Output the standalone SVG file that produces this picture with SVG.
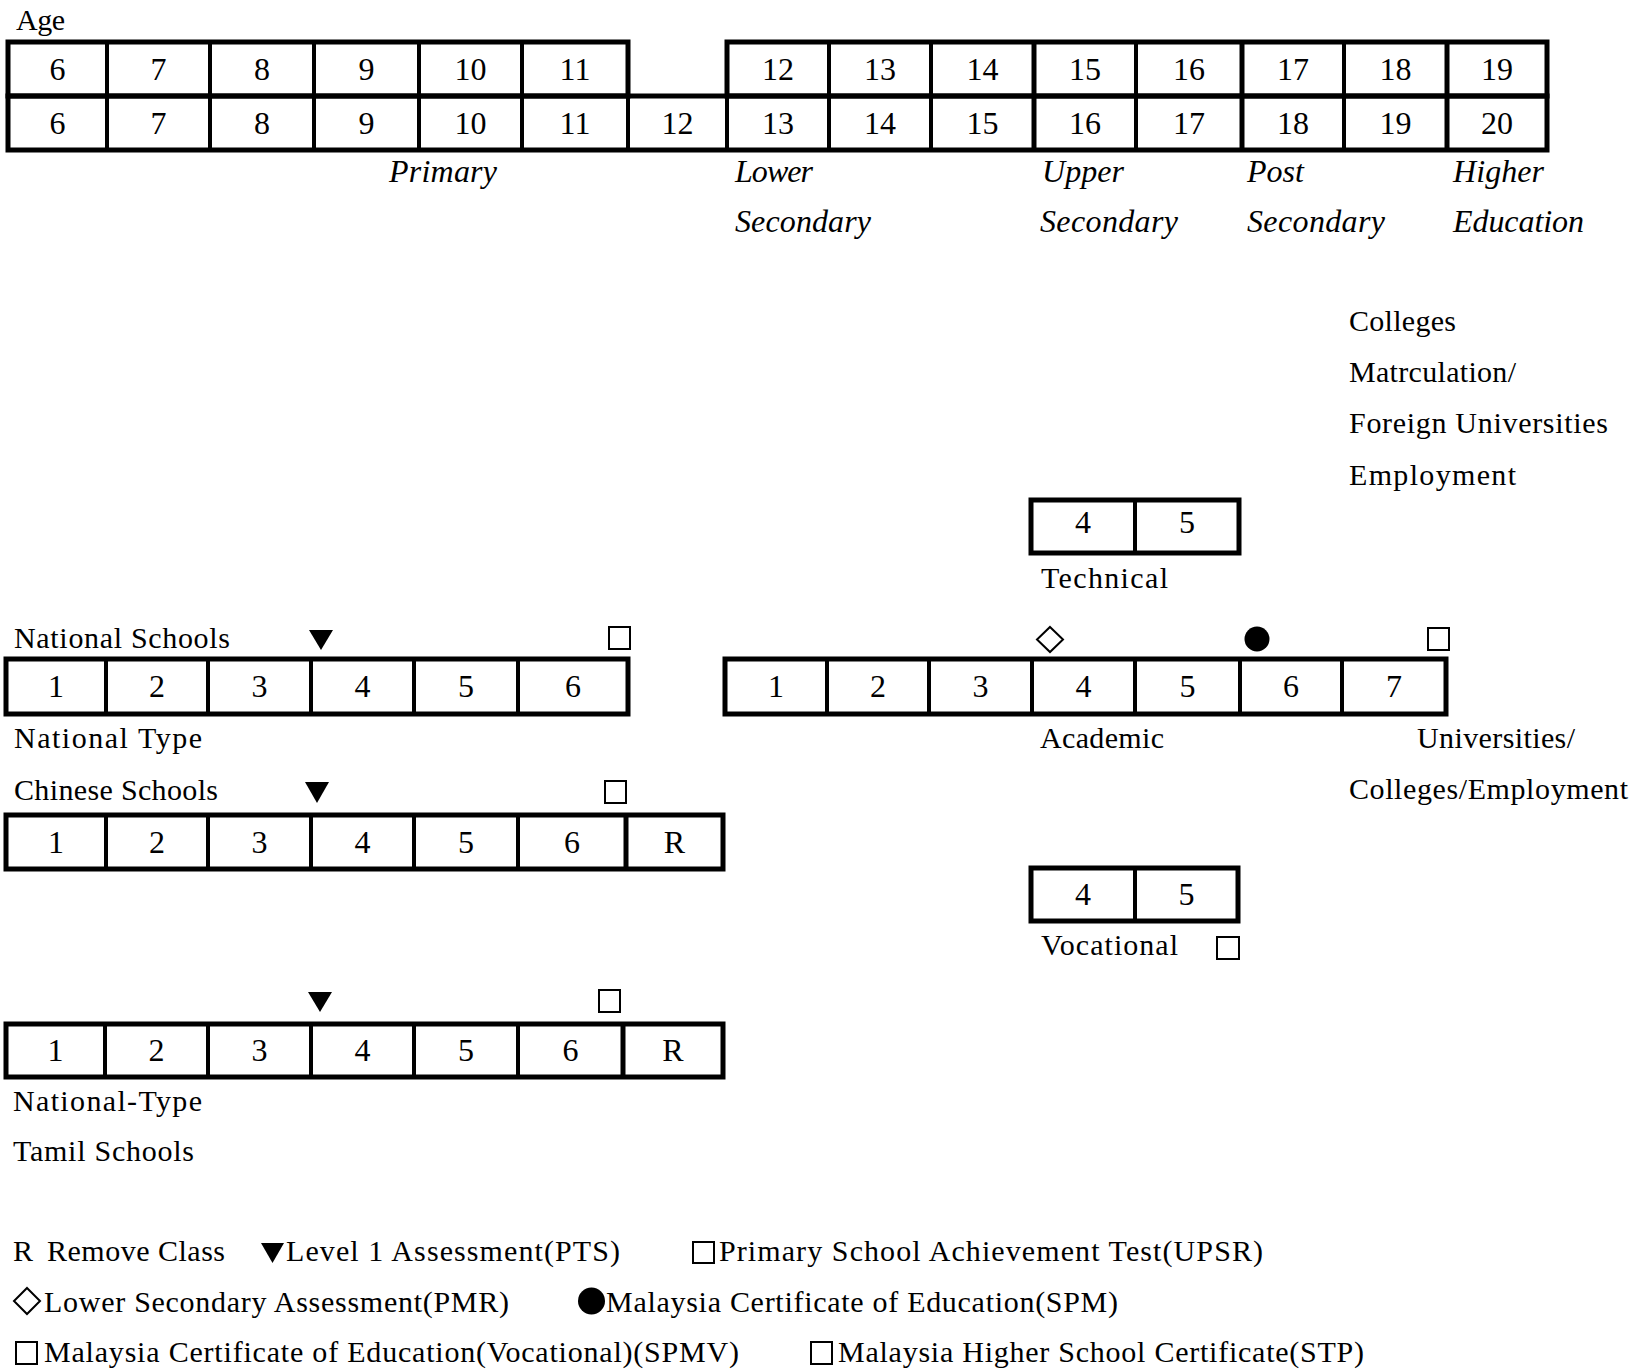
<svg xmlns="http://www.w3.org/2000/svg" width="1639" height="1369" viewBox="0 0 1639 1369">
<style>
text{font-family:"Liberation Serif","Times New Roman",serif;fill:#000}
.d{font-size:32px;text-anchor:middle}
.l{font-size:30px}
.i{font-size:32px;font-style:italic}
.box{fill:none;stroke:#000;stroke-width:5}
.div{stroke:#000;stroke-width:4}
.sq{fill:none;stroke:#000;stroke-width:2}
</style>
<rect width="1639" height="1369" fill="#fff"/>
<g id="age-table">
<text class="l" x="16" y="30" textLength="49">Age</text>
<rect class="box" x="8" y="42" width="620" height="54"/>
<rect class="box" x="727" y="42" width="820" height="54"/>
<rect class="box" x="8" y="96" width="1539" height="54"/>
<g class="div">
<line x1="107" y1="42" x2="107" y2="150"/><line x1="210" y1="42" x2="210" y2="150"/><line x1="314" y1="42" x2="314" y2="150"/><line x1="419" y1="42" x2="419" y2="150"/><line x1="522" y1="42" x2="522" y2="150"/><line x1="628" y1="96" x2="628" y2="150"/><line x1="727" y1="96" x2="727" y2="150"/><line x1="829" y1="42" x2="829" y2="150"/><line x1="931" y1="42" x2="931" y2="150"/><line x1="1034" y1="42" x2="1034" y2="150" stroke-width="5"/><line x1="1136" y1="42" x2="1136" y2="150"/><line x1="1242" y1="42" x2="1242" y2="150" stroke-width="5"/><line x1="1344" y1="42" x2="1344" y2="150"/><line x1="1447" y1="42" x2="1447" y2="150" stroke-width="5"/>
</g>
<g class="d">
<text x="57.5" y="80">6</text><text x="158.5" y="80">7</text><text x="262" y="80">8</text><text x="366.5" y="80">9</text><text x="470.5" y="80">10</text><text x="575" y="80">11</text>
<text x="778" y="80">12</text><text x="880" y="80">13</text><text x="982.5" y="80">14</text><text x="1085" y="80">15</text><text x="1189" y="80">16</text><text x="1293" y="80">17</text><text x="1395.5" y="80">18</text><text x="1497" y="80">19</text>
<text x="57.5" y="134">6</text><text x="158.5" y="134">7</text><text x="262" y="134">8</text><text x="366.5" y="134">9</text><text x="470.5" y="134">10</text><text x="575" y="134">11</text><text x="677.5" y="134">12</text>
<text x="778" y="134">13</text><text x="880" y="134">14</text><text x="982.5" y="134">15</text><text x="1085" y="134">16</text><text x="1189" y="134">17</text><text x="1293" y="134">18</text><text x="1395.5" y="134">19</text><text x="1497" y="134">20</text>
</g>
<g class="i">
<text x="389" y="182" textLength="108">Primary</text>
<text x="735" y="182" textLength="78">Lower</text>
<text x="735" y="232" textLength="136">Secondary</text>
<text x="1042" y="182" textLength="82">Upper</text>
<text x="1040" y="232" textLength="138">Secondary</text>
<text x="1247" y="182" textLength="57">Post</text>
<text x="1247" y="232" textLength="138">Secondary</text>
<text x="1453" y="182" textLength="91">Higher</text>
<text x="1453" y="232" textLength="131">Education</text>
</g>
</g>
<g id="higher-destinations" class="l">
<text x="1349" y="331" textLength="107">Colleges</text>
<text x="1349" y="382" textLength="167">Matrculation/</text>
<text x="1349" y="433" textLength="259">Foreign Universities</text>
<text x="1349" y="485" textLength="167">Employment</text>
</g>
<g id="technical">
<rect class="box" x="1031" y="500" width="208" height="53"/>
<line class="div" x1="1135" y1="500" x2="1135" y2="553"/>
<text class="d" x="1083" y="533">4</text><text class="d" x="1187" y="533">5</text>
<text class="l" x="1041" y="588" textLength="127">Technical</text>
</g>
<g id="national-schools">
<text class="l" x="14" y="648" textLength="216">National Schools</text>
<polygon points="309,630 333,630 321,650"/>
<rect class="sq" x="609" y="627" width="21" height="22"/>
<rect class="box" x="6" y="659" width="622" height="55"/>
<g class="div"><line x1="106" y1="659" x2="106" y2="714"/><line x1="208" y1="659" x2="208" y2="714"/><line x1="311" y1="659" x2="311" y2="714"/><line x1="414" y1="659" x2="414" y2="714"/><line x1="518" y1="659" x2="518" y2="714"/></g>
<g class="d"><text x="56" y="697">1</text><text x="157" y="697">2</text><text x="259.5" y="697">3</text><text x="362.5" y="697">4</text><text x="466" y="697">5</text><text x="573" y="697">6</text></g>
</g>
<g id="academic">
<polygon points="1050,627 1063,639.5 1050,652 1037,639.5" fill="#fff" stroke="#000" stroke-width="2"/>
<circle cx="1257" cy="639" r="12.5"/>
<rect class="sq" x="1428" y="628" width="21" height="22"/>
<rect class="box" x="725" y="659" width="721" height="55"/>
<g class="div"><line x1="827" y1="659" x2="827" y2="714"/><line x1="929" y1="659" x2="929" y2="714"/><line x1="1032" y1="659" x2="1032" y2="714"/><line x1="1135" y1="659" x2="1135" y2="714"/><line x1="1240" y1="659" x2="1240" y2="714"/><line x1="1342" y1="659" x2="1342" y2="714"/></g>
<g class="d"><text x="776" y="697">1</text><text x="878" y="697">2</text><text x="980.5" y="697">3</text><text x="1083.5" y="697">4</text><text x="1187.5" y="697">5</text><text x="1291" y="697">6</text><text x="1394" y="697">7</text></g>
<text class="l" x="1040" y="748" textLength="124">Academic</text>
<text class="l" x="1417" y="748" textLength="158">Universities/</text>
<text class="l" x="1349" y="799" textLength="279">Colleges/Employment</text>
</g>
<g id="chinese-schools">
<text class="l" x="14" y="748" textLength="188">National Type</text>
<text class="l" x="14" y="800" textLength="204">Chinese Schools</text>
<polygon points="305,782 329,782 317,803"/>
<rect class="sq" x="605" y="781" width="21" height="22"/>
<rect class="box" x="6" y="815" width="717" height="54"/>
<g class="div"><line x1="106" y1="815" x2="106" y2="869"/><line x1="208" y1="815" x2="208" y2="869"/><line x1="311" y1="815" x2="311" y2="869"/><line x1="414" y1="815" x2="414" y2="869"/><line x1="518" y1="815" x2="518" y2="869"/><line x1="626" y1="815" x2="626" y2="869" stroke-width="5"/></g>
<g class="d"><text x="56" y="853">1</text><text x="157" y="853">2</text><text x="259.5" y="853">3</text><text x="362.5" y="853">4</text><text x="466" y="853">5</text><text x="572" y="853">6</text><text x="674.5" y="853">R</text></g>
</g>
<g id="vocational">
<rect class="box" x="1031" y="868" width="207" height="53"/>
<line class="div" x1="1135" y1="868" x2="1135" y2="921"/>
<text class="d" x="1083" y="905">4</text><text class="d" x="1186.5" y="905">5</text>
<text class="l" x="1041" y="955" textLength="137">Vocational</text>
<rect class="sq" x="1217" y="937" width="22" height="22"/>
</g>
<g id="tamil-schools">
<polygon points="308,992 332,992 320,1012"/>
<rect class="sq" x="599" y="990" width="21" height="22"/>
<rect class="box" x="6" y="1024" width="717" height="53"/>
<g class="div"><line x1="105" y1="1024" x2="105" y2="1077"/><line x1="208" y1="1024" x2="208" y2="1077"/><line x1="311" y1="1024" x2="311" y2="1077"/><line x1="414" y1="1024" x2="414" y2="1077"/><line x1="518" y1="1024" x2="518" y2="1077"/><line x1="623" y1="1024" x2="623" y2="1077" stroke-width="5"/></g>
<g class="d"><text x="55.5" y="1061">1</text><text x="156.5" y="1061">2</text><text x="259.5" y="1061">3</text><text x="362.5" y="1061">4</text><text x="466" y="1061">5</text><text x="570.5" y="1061">6</text><text x="673" y="1061">R</text></g>
<text class="l" x="13" y="1111" textLength="189">National-Type</text>
<text class="l" x="13" y="1161" textLength="181">Tamil Schools</text>
</g>
<g id="connectors"/>
<g id="legend" class="l">
<text x="13" y="1261">R</text>
<text x="47" y="1261" textLength="178">Remove Class</text>
<polygon points="261,1243 284,1243 272.5,1263"/>
<text x="286" y="1261" textLength="334">Level 1 Assessment(PTS)</text>
<rect class="sq" x="693" y="1242" width="21" height="21"/>
<text x="719" y="1261" textLength="544">Primary School Achievement Test(UPSR)</text>
<polygon points="27,1288 40,1301 27,1314 14,1301" fill="#fff" stroke="#000" stroke-width="2"/>
<text x="44" y="1312" textLength="465">Lower Secondary Assessment(PMR)</text>
<circle cx="591.5" cy="1301" r="13.5"/>
<text x="606" y="1312" textLength="512">Malaysia Certificate of Education(SPM)</text>
<rect class="sq" x="16" y="1342" width="21" height="22"/>
<text x="44" y="1362" textLength="695">Malaysia Certificate of Education(Vocational)(SPMV)</text>
<rect class="sq" x="811" y="1342" width="21" height="22"/>
<text x="838" y="1362" textLength="526">Malaysia Higher School Certificate(STP)</text>
</g>
</svg>
